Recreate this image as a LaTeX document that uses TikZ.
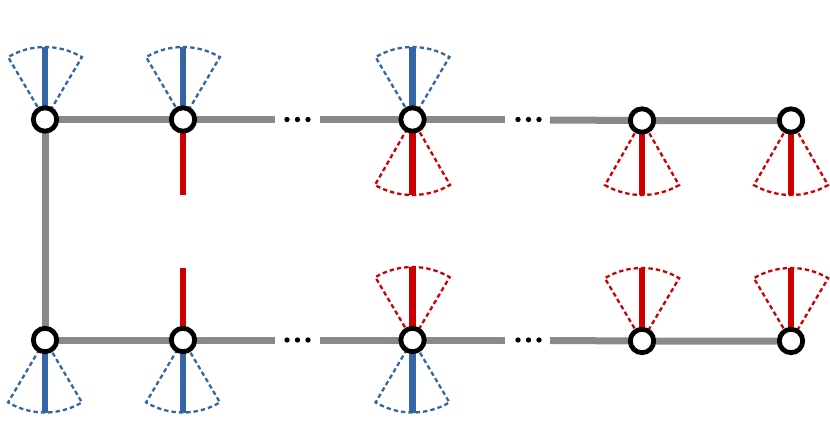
\documentclass[tikz,border=0pt]{standalone}
\usetikzlibrary{backgrounds}
\definecolor{wiregray}{HTML}{888A85}
\definecolor{legblue}{HTML}{3465A4}
\definecolor{legred}{HTML}{CC0000}
\tikzset{
  site/.style={circle,draw=black,fill=white,line width=4.8pt,minimum size=23.4pt,inner sep=0pt},
  wire/.style={draw=wiregray,line width=7pt},
  bluestem/.style={draw=legblue,line width=6.6pt},
  redstem/.style={draw=legred,line width=6.6pt},
  bluefan/.style={draw=legblue,line width=2.3pt,dash pattern=on 4.4pt off 3pt,line join=miter},
  redfan/.style={draw=legred,line width=2.3pt,dash pattern=on 4.4pt off 3pt,line join=miter},
  dotmark/.style={circle,fill=black,inner sep=0pt,minimum size=5.4pt}
}
% node, direction, half angle, radius, style
\newcommand{\fanshape}[5]{%
  \draw[#5] (#1.center) -- ++({#2+#3}:#4 pt) arc[start angle={#2+#3},end angle={#2-#3},radius=#4 pt] -- (#1.center);}
\newcommand{\legup}[3]{\draw[#3] (#1.center) -- ++(0,#2 pt);}
\newcommand{\legdown}[3]{\draw[#3] (#1.center) -- ++(0,-#2 pt);}
\begin{document}
\begin{tikzpicture}[x=1pt,y=-1pt]
\useasboundingbox (0,0) rectangle (830,436);
% sites
\node[site] (a1) at (45,119.5) {};
\node[site] (a2) at (183,119.5) {};
\node[site] (a3) at (412.5,119.5) {};
\node[site] (a4) at (642,120.5) {};
\node[site] (a5) at (791,120.5) {};
\node[site] (b1) at (45,340) {};
\node[site] (b2) at (183,340) {};
\node[site] (b3) at (412.5,340) {};
\node[site] (b4) at (642,341) {};
\node[site] (b5) at (791,341) {};
% free ends of the chain
\coordinate (ta) at (275,119.5);
\coordinate (tb) at (320,119.5);
\coordinate (tc) at (505,119.5);
\coordinate (td) at (550,120);
\coordinate (ba) at (275,340);
\coordinate (bb) at (320,340);
\coordinate (bc) at (505,340);
\coordinate (bd) at (550,340.5);
% ellipsis dots
\foreach \n/\x/\y in {p1/287/119.5,p2/297.5/119.5,p3/308/119.5,p4/518/119.5,p5/528.5/119.5,p6/539/119.5,
                      q1/287/340,q2/297.5/340,q3/308/340,q4/518/340,q5/528.5/340,q6/539/340}
  \node[dotmark] (\n) at (\x,\y) {};
\begin{scope}[on background layer]
  % fans
  \fanshape{a1}{90}{30.6}{72.5}{bluefan}
  \fanshape{a2}{90}{30.6}{72.5}{bluefan}
  \fanshape{a3}{90}{30.6}{72.5}{bluefan}
  \fanshape{a3}{-90}{29.8}{75.5}{redfan}
  \fanshape{a4}{-90}{29.8}{74.5}{redfan}
  \fanshape{a5}{-90}{29.8}{74.5}{redfan}
  \fanshape{b1}{-90}{30.6}{72.5}{bluefan}
  \fanshape{b2}{-90}{30.6}{72.5}{bluefan}
  \fanshape{b3}{-90}{30.6}{72.5}{bluefan}
  \fanshape{b3}{90}{30.6}{73}{redfan}
  \fanshape{b4}{90}{30.6}{73}{redfan}
  \fanshape{b5}{90}{30.6}{73}{redfan}
  % stems
  \legup{a1}{72.5}{bluestem}
  \legup{a2}{72.5}{bluestem}
  \legup{a3}{72.5}{bluestem}
  \legdown{a2}{75}{redstem}
  \legdown{a3}{75.5}{redstem}
  \legdown{a4}{74.5}{redstem}
  \legdown{a5}{74.5}{redstem}
  \legdown{b1}{72.5}{bluestem}
  \legdown{b2}{72.5}{bluestem}
  \legdown{b3}{72.5}{bluestem}
  \legup{b2}{72.5}{redstem}
  \legup{b3}{73}{redstem}
  \legup{b4}{73}{redstem}
  \legup{b5}{73}{redstem}
  % chain
  \draw[wire] (a1.center) -- (b1.center);
  \draw[wire] (a1.center) -- (a2.center) -- (ta);
  \draw[wire] (tb) -- (a3.center) -- (tc);
  \draw[wire] (td) -- (a4.center) -- (a5.center);
  \draw[wire] (b1.center) -- (b2.center) -- (ba);
  \draw[wire] (bb) -- (b3.center) -- (bc);
  \draw[wire] (bd) -- (b4.center) -- (b5.center);
\end{scope}
\end{tikzpicture}
\end{document}
